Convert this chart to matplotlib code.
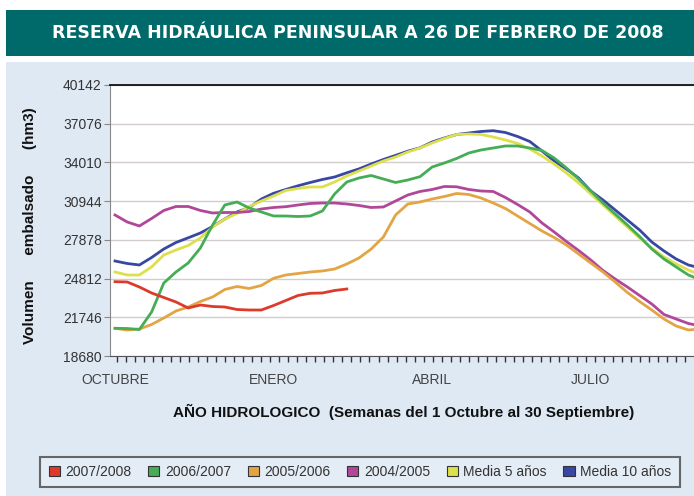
import matplotlib
matplotlib.use("Agg")
import matplotlib.pyplot as plt
import matplotlib.patches as mpatches
import numpy as np

plt.rcParams['font.family'] = ['Liberation Sans', 'DejaVu Sans']

# ---- data (hm3), weekly from 1 October ----
weeks_label = ["OCTUBRE", "ENERO", "ABRIL", "JULIO"]
label_weeks = [0, 13, 26, 39]
yticks = [18680, 21746, 24812, 27878, 30944, 34010, 37076, 40142]

s2007 = [24565, 24541, 24145, 23670, 23313, 22957, 22482, 22719, 22600, 22561,
         22363, 22323, 22323, 22680, 23076, 23472, 23646, 23670, 23868, 23986]

s2006 = [20874, 20858, 20779, 22165, 24462, 25333, 26046, 27234, 29055, 30639,
         30877, 30402, 30085, 29768, 29768, 29728, 29768, 30164, 31510, 32461,
         32778, 32976, 32698, 32421, 32619, 32881, 33649, 33966, 34322, 34758,
         34995, 35154, 35312, 35312, 35154, 34956, 34362, 33570, 32698, 31748,
         30798, 29926, 29055, 28144, 27154, 26362, 25729, 25095, 24699]

s2005 = [20874, 20739, 20818, 21175, 21690, 22244, 22561, 22996, 23353, 23947,
         24184, 24026, 24264, 24834, 25095, 25214, 25333, 25412, 25570, 25966,
         26442, 27154, 28105, 29847, 30718, 30877, 31114, 31312, 31550, 31471,
         31194, 30798, 30362, 29768, 29174, 28580, 28065, 27471, 26758, 26046,
         25333, 24541, 23709, 22996, 22323, 21610, 21056, 20739, 20818]

s2004 = [29847, 29293, 28976, 29570, 30204, 30520, 30520, 30204, 30006, 30045,
         30045, 30124, 30322, 30441, 30505, 30639, 30758, 30798, 30798, 30718,
         30600, 30441, 30481, 30956, 31431, 31708, 31867, 32104, 32081, 31867,
         31748, 31708, 31233, 30679, 30085, 29214, 28501, 27748, 27036, 26283,
         25452, 24778, 24145, 23472, 22798, 21967, 21610, 21254, 21056]

media5 = [25333, 25095, 25095, 25729, 26679, 27075, 27432, 28026, 28897, 29530,
          29966, 30520, 30956, 31352, 31788, 31946, 32065, 32065, 32461, 32936,
          33332, 33728, 34124, 34441, 34837, 35154, 35550, 35906, 36223, 36262,
          36223, 36025, 35787, 35510, 35074, 34520, 33886, 33174, 32382, 31510,
          30639, 29768, 28897, 28026, 27234, 26521, 25966, 25491, 25095]

media10 = [26204, 26006, 25887, 26481, 27154, 27669, 28041, 28422, 28936, 29530,
           30085, 30441, 31114, 31566, 31867, 32160, 32421, 32659, 32857, 33189,
           33498, 33886, 34243, 34568, 34900, 35169, 35629, 35946, 36222, 36342,
           36460, 36524, 36381, 36064, 35668, 34916, 34124, 33490, 32778, 31748,
           31035, 30243, 29451, 28659, 27709, 26996, 26362, 25887, 25650]

series_names = ["2007/2008", "2006/2007", "2005/2006", "2004/2005", "Media 5 años", "Media 10 años"]
series_data = [s2007, s2006, s2005, s2004, media5, media10]
series_colors = ["#dc3b2c", "#45ad55", "#e3a444", "#b0479a", "#dde04c", "#3847a3"]
draw_order = [4, 5, 3, 2, 1, 0]

W, H = 694, 496
fig = plt.figure(figsize=(W / 100, H / 100), dpi=100)
fig.patch.set_facecolor("white")

# background panel and title bar
fig.add_artist(mpatches.Rectangle((6 / W, 0), 688 / W, (496 - 62) / H,
                                  transform=fig.transFigure, facecolor="#dfe9f4",
                                  edgecolor="none", zorder=0))
fig.add_artist(mpatches.Rectangle((6 / W, 1 - 56 / H), 688 / W, 46 / H,
                                  transform=fig.transFigure, facecolor="#006a6b",
                                  edgecolor="none", zorder=0))
fig.text(358 / W, 1 - 33 / H, "RESERVA HIDRÁULICA PENINSULAR A 26 DE FEBRERO DE 2008",
         color="white", fontsize=12.5, fontweight="bold", ha="center", va="center",
         family=["DejaVu Sans"])

ax = fig.add_axes([110 / W, 1 - 356 / H, (W - 110) / W, 271 / H])
ax.set_facecolor("white")

for i in draw_order:
    d = series_data[i]
    ax.plot(np.arange(len(d)), d, color=series_colors[i], lw=2.0, zorder=3 + (5 - i) * 0.1)

ax.set_ylim(18680, 40142)
ax.set_xlim(-0.41, 47.46)
ax.set_yticks(yticks)
ax.set_yticklabels([str(v) for v in yticks], fontsize=10, color="#333333")
ax.yaxis.grid(True, color="#d2cccc", lw=1.0)
ax.set_axisbelow(True)
ax.tick_params(axis="y", length=4, color="#888888", pad=2)

ax.set_xticks(label_weeks)
ax.set_xticklabels(weeks_label, fontsize=10, color="#444444")
ax.tick_params(axis="x", which="major", length=0, pad=12)
ax.set_xticks(np.arange(0.14, 47.5, 0.74), minor=True)
ax.tick_params(axis="x", which="minor", length=4, color="#333333", width=1)

ax.spines["right"].set_visible(False)
ax.spines["top"].set_color("#111111")
ax.spines["top"].set_linewidth(1.3)
ax.spines["left"].set_color("#888888")
ax.spines["bottom"].set_color("#555555")

fig.text(30 / W, 1 - 226 / H, "Volumen      embalsado      (hm3)", rotation=90,
         fontsize=11, fontweight="bold", ha="center", va="center", color="#111111")
fig.text(404 / W, 1 - 412 / H,
         "AÑO HIDROLOGICO  (Semanas del 1 Octubre al 30 Septiembre)",
         fontsize=11, fontweight="bold", ha="center", va="center", color="#111111")

handles = [mpatches.Patch(facecolor=c, edgecolor="#333333", lw=0.8) for c in series_colors]
leg = fig.legend(handles, series_names, loc="center", ncol=6,
                 bbox_to_anchor=(360 / W, 1 - 472 / H), frameon=True, fancybox=False,
                 fontsize=10, handlelength=0.8, handleheight=0.8, handletextpad=0.4,
                 columnspacing=1.2, borderpad=0.6)
leg.get_frame().set_edgecolor("#444444")
leg.get_frame().set_linewidth(1.5)
leg.get_frame().set_facecolor("#e6eef7")
for t in leg.get_texts():
    t.set_color("#333333")

fig.savefig("out.png", dpi=100)
